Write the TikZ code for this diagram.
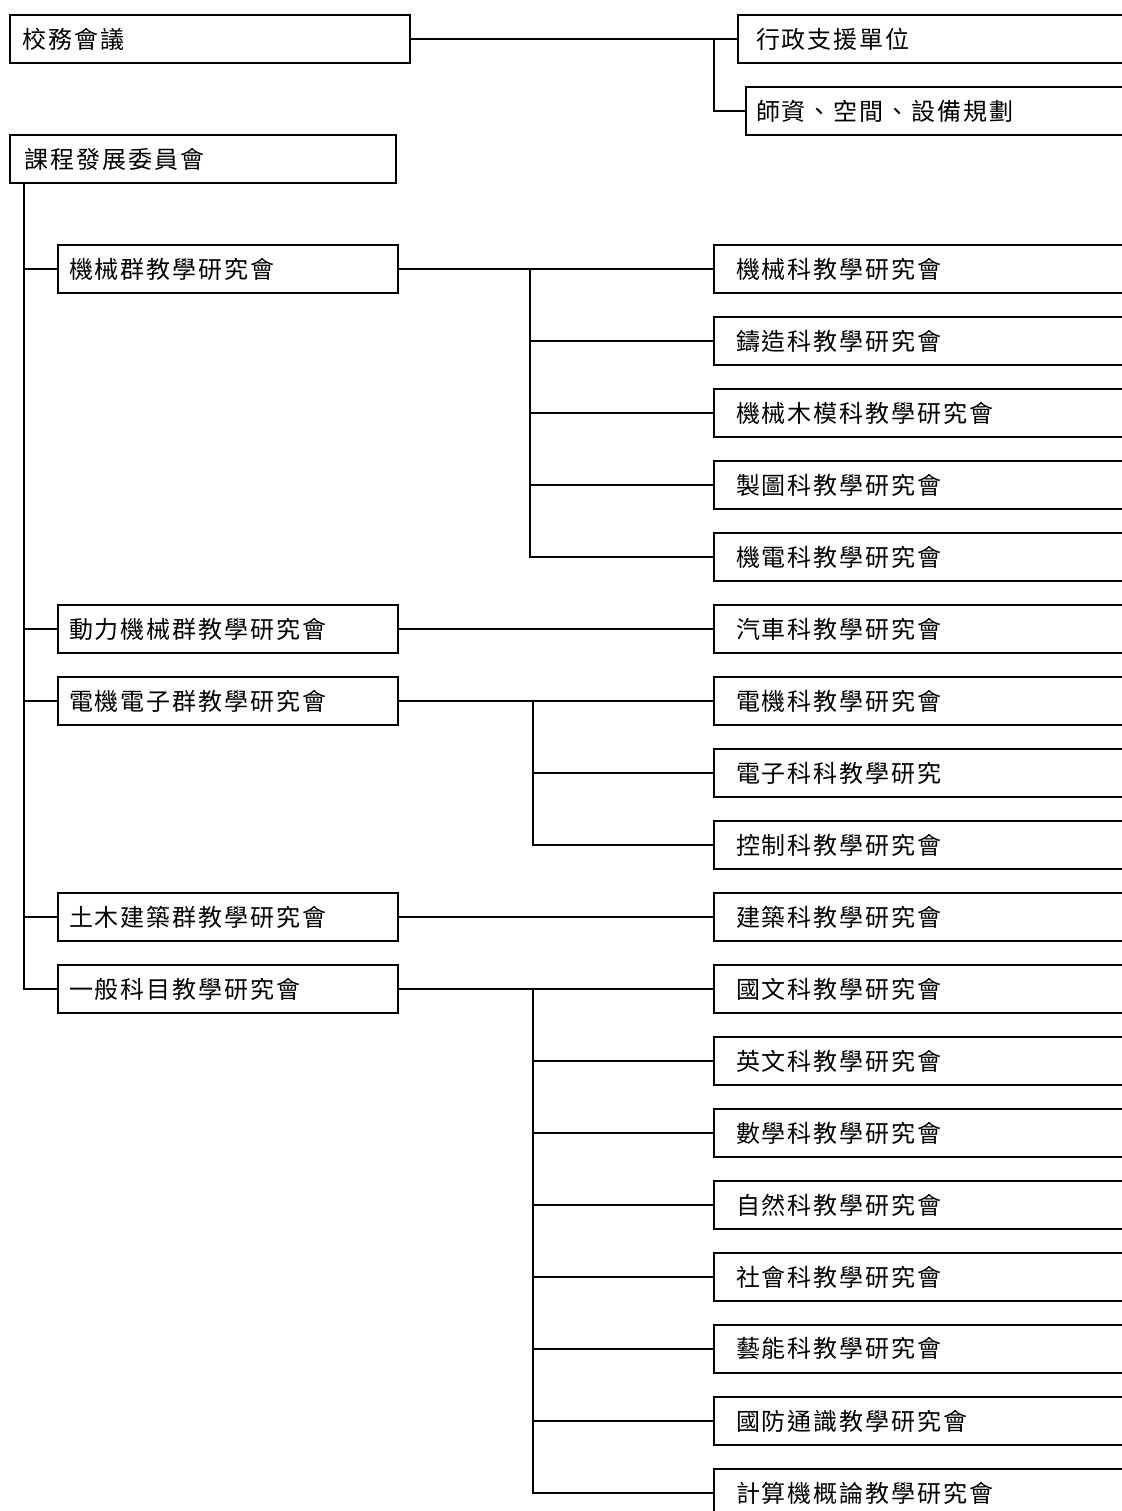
\documentclass[tikz,border=0pt]{standalone}
\usepackage{fontspec}
\newfontfamily\cjk{Noto Sans CJK TC}[LetterSpace=8]
\usepackage{tikz}
\usetikzlibrary{positioning}

\begin{document}
\begin{tikzpicture}[x=0.5pt, y=-0.5pt, line width=1pt,
    box/.style={draw, line width=1pt, anchor=north west, minimum height=24pt,
      inner ysep=0pt, align=left, font=\cjk\fontsize{12pt}{14pt}\selectfont},
    lbox/.style={box, inner xsep=5.5pt, text width=159pt},
    rbox/.style={box, inner xsep=11pt, text width=198pt}]
    \useasboundingbox (0,0) rectangle (1121,1511);

    % Top level
    \node[box, inner xsep=6.5pt, text width=187pt] (council) at (9,14) {校務會議};
    \node[box, inner xsep=9pt, text width=194pt] (admin) at (737,14) {行政支援單位};
    \node[box, inner xsep=5pt, text width=198pt] (plan) at (745,86) {師資、空間、設備規劃};
    \node[box, inner xsep=7.5pt, text width=178pt] (curric) at (9,134) {課程發展委員會};

    % Groups
    \node[lbox] (mech) at (57,244) {機械群教學研究會};
    \node[lbox] (auto) at (57,604) {動力機械群教學研究會};
    \node[lbox] (elec) at (57,676) {電機電子群教學研究會};
    \node[lbox] (civil) at (57,892) {土木建築群教學研究會};
    \node[lbox] (gen) at (57,964) {一般科目教學研究會};

    % Departments
    \foreach \name/\txt [count=\i from 0] in {mechdept/機械科教學研究會, cast/鑄造科教學研究會,
        pattern/機械木模科教學研究會, drafting/製圖科教學研究會, mechatronics/機電科教學研究會,
        car/汽車科教學研究會, electrical/電機科教學研究會, electronic/電子科科教學研究,
        control/控制科教學研究會, arch/建築科教學研究會, chinese/國文科教學研究會,
        english/英文科教學研究會, math/數學科教學研究會, science/自然科教學研究會,
        social/社會科教學研究會, arts/藝能科教學研究會, defense/國防通識教學研究會,
        computer/計算機概論教學研究會}
        \node[rbox] (\name) at (713,{244+72*\i}) {\txt};

    % Connectors
    \draw (council.east) -- (admin.west);
    \coordinate (adminbus) at (714,38);
    \draw (adminbus) |- (plan.west);

    \coordinate (trunk) at ([xshift=7.5pt]curric.south west);
    \foreach \g in {mech,auto,elec,civil,gen}
        \draw (trunk) |- (\g.west);

    \draw (mech.east) -- (mechdept.west);
    \coordinate (mechbus) at (530,268);
    \foreach \d in {cast,pattern,drafting,mechatronics}
        \draw (mechbus) |- (\d.west);

    \draw (auto.east) -- (car.west);

    \draw (elec.east) -- (electrical.west);
    \coordinate (elecbus) at (533,700);
    \foreach \d in {electronic,control}
        \draw (elecbus) |- (\d.west);

    \draw (civil.east) -- (arch.west);

    \draw (gen.east) -- (chinese.west);
    \coordinate (genbus) at (533,988);
    \foreach \d in {english,math,science,social,arts,defense,computer}
        \draw (genbus) |- (\d.west);
\end{tikzpicture}
\end{document}
